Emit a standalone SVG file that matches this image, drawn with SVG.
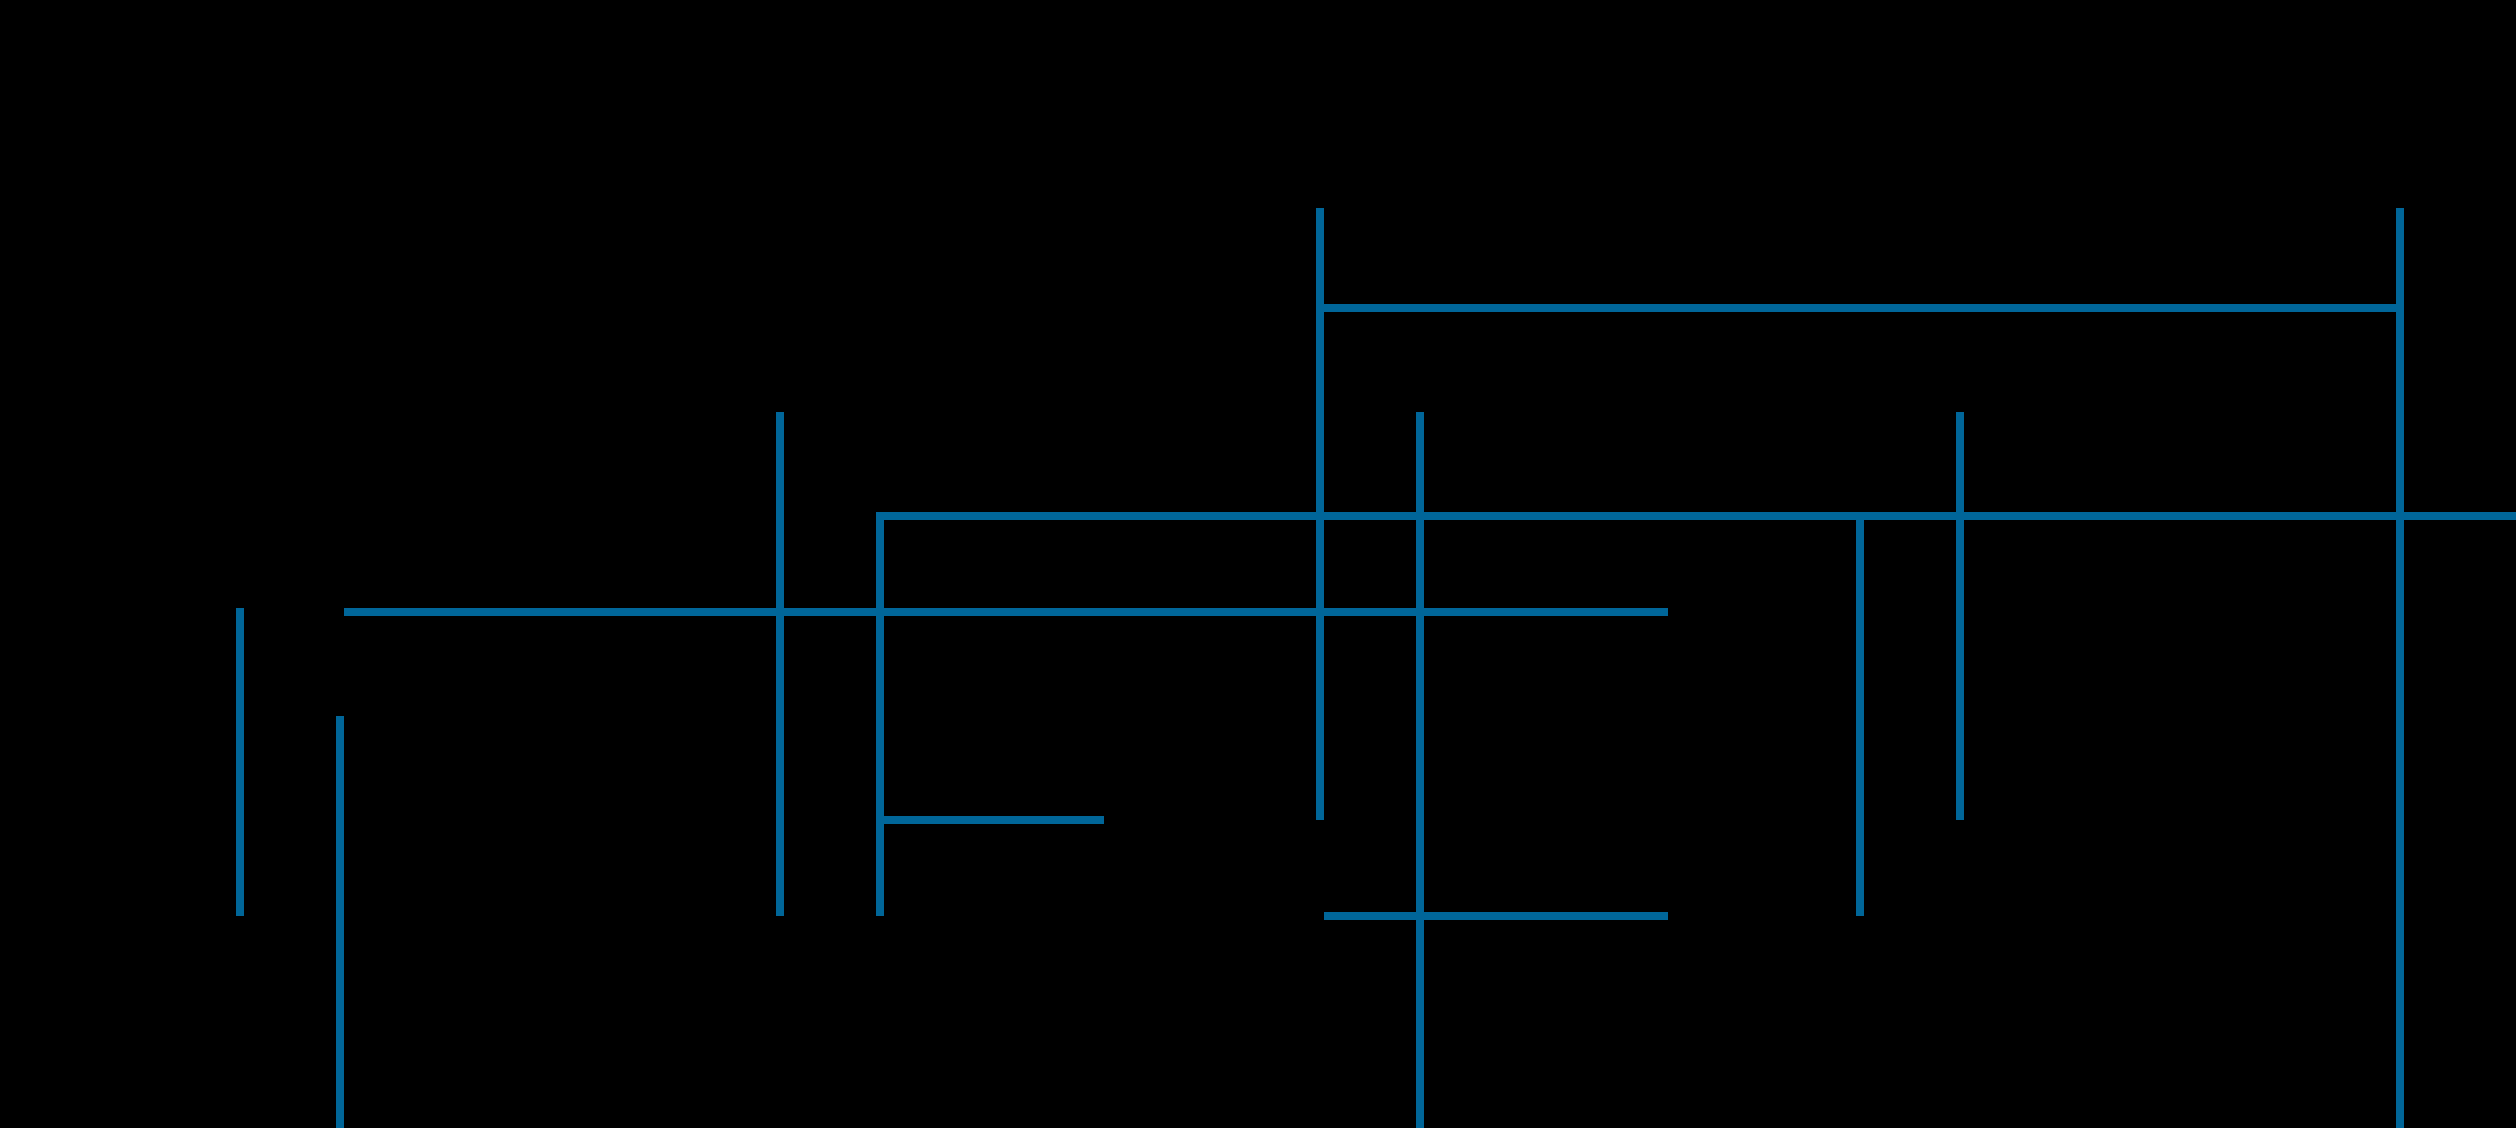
<svg xmlns="http://www.w3.org/2000/svg" width="2516" height="1128" viewBox="0 0 2516 1128">
<style>
.c{fill:none;stroke:#006699;stroke-width:8;stroke-linecap:butt;stroke-linejoin:miter}
</style>
<rect x="0" y="0" width="2516" height="1128" fill="#000000"/>
<g id="connectors">
<path class="c" d="M1320,208V820"/>
<path class="c" d="M2400,208V1128"/>
<path class="c" d="M1324,308H2396"/>
<path class="c" d="M1420,412V1128"/>
<path class="c" d="M1960,412V820"/>
<path class="c" d="M880,916V516H2516"/>
<path class="c" d="M780,412V916"/>
<path class="c" d="M344,612H1668"/>
<path class="c" d="M240,608V916"/>
<path class="c" d="M340,716V1128"/>
<path class="c" d="M884,820H1104"/>
<path class="c" d="M1860,520V916"/>
<path class="c" d="M1324,916H1668"/>
</g>
</svg>
